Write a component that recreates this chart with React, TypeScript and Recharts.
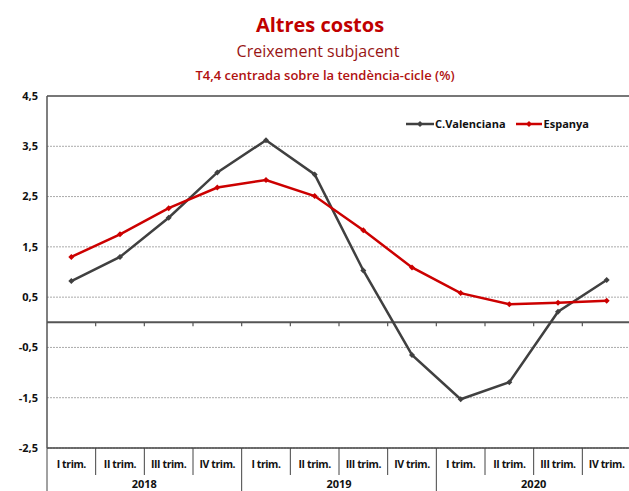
import React from "react"
import { CartesianGrid, Line, LineChart, ReferenceLine, XAxis, YAxis } from "recharts"

// Trimestres i sèries
const quarters = ["I trim.", "II trim.", "III trim.", "IV trim.", "I trim.", "II trim.", "III trim.", "IV trim.", "I trim.", "II trim.", "III trim.", "IV trim."]
const years = ["2018", "2018", "2018", "2018", "2019", "2019", "2019", "2019", "2020", "2020", "2020", "2020"]
const cValenciana = [0.82, 1.3, 2.08, 2.98, 3.62, 2.94, 1.03, -0.65, -1.53, -1.19, 0.21, 0.84]
const espanya = [1.3, 1.75, 2.27, 2.68, 2.83, 2.51, 1.83, 1.09, 0.58, 0.36, 0.39, 0.43]
const yTicks = [-2.5, -1.5, -0.5, 0.5, 1.5, 2.5, 3.5, 4.5]

const data = quarters.map((q, i) => ({ key: i, q, year: years[i], cv: cValenciana[i], es: espanya[i] }))

const FONT = "'Open Sans', sans-serif"
const CHART_W = 640
const MARGIN = { top: 96, right: 9, bottom: 0, left: 0 }
const Y_W = 47
const BAND = (CHART_W - MARGIN.left - MARGIN.right - Y_W) / quarters.length

const QuarterTick = (props: any) => {
  const { x, y, index } = props
  const d = data[index]
  const left = x - BAND / 2
  const showYear = index % 4 === 1
  return (
    <g>
      <line x1={left} y1={y} x2={left} y2={y + (index % 4 === 0 ? 43 : 27)} stroke="#444" strokeWidth={1} />
      <text x={x} y={y + 20} textAnchor="middle" fontSize={10.5} fontWeight={700} fill="#111" fontFamily={FONT} letterSpacing={-0.4}>
        {d.q}
      </text>
      {showYear && (
        <text x={x + BAND / 2} y={y + 40} textAnchor="middle" fontSize={11} fontWeight={700} fill="#111" fontFamily={FONT}>
          {d.year}
        </text>
      )}
    </g>
  )
}

const ZeroLine = (props: any) => {
  const { x1, x2, y1 } = props
  const step = (x2 - x1) / quarters.length
  return (
    <g>
      <line x1={x1} y1={y1} x2={x2} y2={y1} stroke="#555" strokeWidth={2} />
      {quarters.slice(1).map((_, i) => (
        <line key={i} x1={x1 + step * (i + 1)} y1={y1} x2={x1 + step * (i + 1)} y2={y1 + 4} stroke="#555" strokeWidth={1.2} />
      ))}
    </g>
  )
}

const Dot = (color: string) => (props: any) => {
  const { cx, cy, index } = props
  if (cx == null || cy == null) return null
  return <path key={index} d={`M${cx - 3},${cy} L${cx},${cy - 3} L${cx + 3},${cy} L${cx},${cy + 3} Z`} fill={color} />
}

const LegendBox = () => (
  <div style={{ position: "absolute", top: 116, left: 406, display: "flex", alignItems: "center", fontFamily: FONT, fontSize: 11, fontWeight: 700, color: "#111" }}>
    <svg width={28} height={10}>
      <line x1={0} y1={5} x2={28} y2={5} stroke="#404040" strokeWidth={2.5} />
      <path d="M11,5 L14,2 L17,5 L14,8 Z" fill="#404040" />
    </svg>
    <span style={{ marginLeft: 1 }}>C.Valenciana</span>
    <svg width={26} height={10} style={{ marginLeft: 10 }}>
      <line x1={0} y1={5} x2={26} y2={5} stroke="#cc0000" strokeWidth={2.5} />
      <path d="M10,5 L13,2 L16,5 L13,8 Z" fill="#cc0000" />
    </svg>
    <span style={{ marginLeft: 2 }}>Espanya</span>
  </div>
)

export default function App() {
  return (
    <div style={{ position: "absolute", left: 0, top: 0, width: 629, height: 491, overflow: "hidden", background: "#fff" }}>
      <div style={{ position: "absolute", top: 12, left: 0, width: 640, textAlign: "center", fontFamily: FONT, color: "#c00000", fontSize: 20, fontWeight: 700, lineHeight: "26px" }}>
        Altres costos
      </div>
      <div style={{ position: "absolute", top: 40, left: 0, width: 636, textAlign: "center", fontFamily: FONT, color: "#981414", fontSize: 16, fontWeight: 500, lineHeight: "22px" }}>
        Creixement subjacent
      </div>
      <div style={{ position: "absolute", top: 65, left: 0, width: 650, textAlign: "center", fontFamily: FONT, color: "#b01010", fontSize: 13, fontWeight: 600, lineHeight: "20px" }}>
        T4,4 centrada sobre la tendència-cicle (%)
      </div>
      <LineChart width={CHART_W} height={491} data={data} margin={MARGIN} style={{ position: "absolute", left: 0, top: 0 }}>
        <CartesianGrid vertical={false} stroke="#aaa" strokeDasharray="2 1" />
        <XAxis
          dataKey="key"
          type="category"
          scale="band"
          height={43}
          tickLine={false}
          tickSize={0}
          tickMargin={0}
          axisLine={{ stroke: "#444", strokeWidth: 1.5 }}
          tick={<QuarterTick />}
          interval={0}
        />
        <YAxis
          width={Y_W}
          domain={[-2.5, 4.5]}
          ticks={yTicks}
          tickLine={false}
          tickSize={0}
          tickMargin={9}
          axisLine={{ stroke: "#555", strokeWidth: 1.5 }}
          tickFormatter={(v: number) => v.toFixed(1).replace(".", ",")}
          tick={{ fontSize: 11, fontWeight: 700, fill: "#111", fontFamily: FONT }}
        />
        <ReferenceLine y={4.5} stroke="#777" strokeWidth={2} />
        <ReferenceLine y={0} shape={<ZeroLine />} />
        <Line dataKey="cv" name="C.Valenciana" stroke="#404040" strokeWidth={2.5} dot={Dot("#404040")} activeDot={false} isAnimationActive={false} />
        <Line dataKey="es" name="Espanya" stroke="#cc0000" strokeWidth={2.5} dot={Dot("#cc0000")} activeDot={false} isAnimationActive={false} />
      </LineChart>
      <LegendBox />
    </div>
  )
}
